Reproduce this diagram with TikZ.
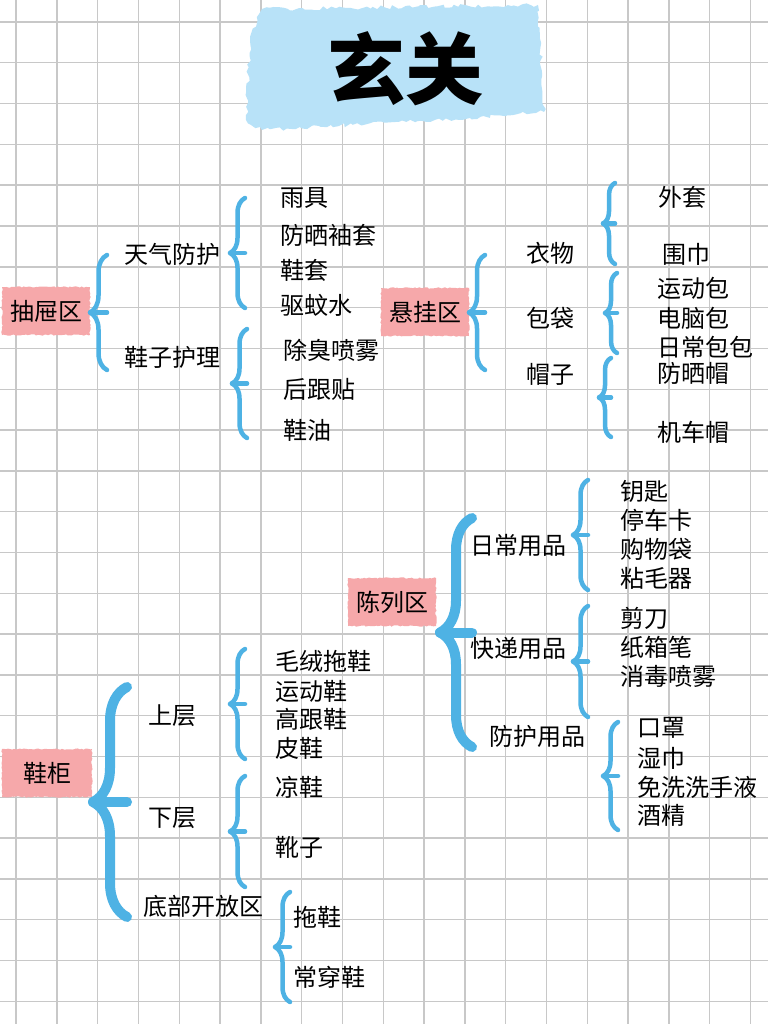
\documentclass[tikz,border=0pt]{standalone}
\usepackage{fontspec}
\setmainfont{Noto Sans CJK SC}
\usetikzlibrary{calc,decorations.pathreplacing,decorations.pathmorphing}

\definecolor{gridgray}{RGB}{200,200,200}
\definecolor{zonepink}{RGB}{246,168,170}
\definecolor{bracblue}{RGB}{78,178,228}
\definecolor{titleblue}{RGB}{184,226,248}

\tikzset{
  gridln/.style={draw=gridgray, line width=1.4},
  zone/.style={fill=zonepink, minimum width=88, minimum height=48, inner sep=0,
    decorate, decoration={random steps,segment length=2pt,amplitude=0.7pt},
    font=\fontsize{24}{28}\selectfont},
  sub/.style={inner sep=0, font=\fontsize{24}{28}\selectfont},
  item/.style={anchor=west, inner sep=0, font=\fontsize{24}{28}\selectfont},
  brc/.style={draw=bracblue, line width=4.5, line cap=round, line join=round},
  bigbrc/.style={draw=bracblue, line width=10, line cap=round, line join=round},
}

% brace: [style]{name}{end x}{top y}{bottom y}{amplitude}
\newcommand\zonebrace[6][brc]{%
  \coordinate (#2t) at (#3,#4);
  \coordinate (#2b) at (#3,#5);
  \draw[#1, decorate, decoration={brace,amplitude=#6pt}] (#2b) -- (#2t);
  \draw[#1] ($(#2b)!.5!(#2t)+(-#6,0)$) -- ($(#2b)!.5!(#2t)$);
}

\begin{document}
\begin{tikzpicture}[x=1pt,y=-1pt]
  \useasboundingbox (0,0) rectangle (768,1024);
  \fill[white] (0,0) rectangle (768,1024);
  % grid paper
  \foreach \i in {0,...,18}
    \draw[gridln] ({16+40.8*\i},0) -- ({16+40.8*\i},1024);
  \foreach \j in {0,...,24}
    \draw[gridln] (0,{22+40.8*\j}) -- (768,{22+40.8*\j});

  % title
  \fill[titleblue, decorate, decoration={random steps,segment length=4pt,amplitude=2pt}]
    (262,9) -- (538,5) -- (544,112) -- (470,118) -- (262,130) -- (246,120) -- (250,40) -- cycle;
  \node[font=\fontsize{78}{80}\selectfont\bfseries] (title) at (405,69) {玄关};

  % drawer
  \node[zone] (drawer) at (46,311) {抽屉区};
  \zonebrace{drawerbr}{107}{255}{370}{17}
  \node[sub] (weather) at (172,254) {天气防护};
  \node[sub] (shoecare) at (172,357) {鞋子护理};
  \zonebrace{weatherbr}{245}{198}{308}{15}
  \zonebrace{shoecarebr}{247}{329}{438}{15}
  \node[item] (rain) at (280,198) {雨具};
  \node[item] (sleeve) at (280,235) {防晒袖套};
  \node[item] (cover) at (280,270) {鞋套};
  \node[item] (repel) at (280,305) {驱蚊水};
  \node[item] (deodor) at (283,350) {除臭喷雾};
  \node[item] (heel) at (283,389) {后跟贴};
  \node[item] (polish) at (283,430) {鞋油};

  % hanging
  \node[zone] (hanging) at (425,312) {悬挂区};
  \zonebrace{hangingbr}{485}{255}{370}{16}
  \node[sub] (clothes) at (550,253) {衣物};
  \node[sub] (bags) at (550,318) {包袋};
  \node[sub] (hats) at (550,374) {帽子};
  \zonebrace{clothesbr}{615}{183}{264}{12}
  \zonebrace{bagsbr}{617}{273}{353}{12}
  \zonebrace{hatsbr}{611}{358}{437}{12}
  \node[item] (coat) at (658,197) {外套};
  \node[item] (scarf) at (662,254) {围巾};
  \node[item] (sportbag) at (657,288) {运动包};
  \node[item] (laptop) at (657,318) {电脑包};
  \node[item] (daybag) at (657,347) {日常包包};
  \node[item] (sunhat) at (657,373) {防晒帽};
  \node[item] (helmet) at (657,432) {机车帽};

  % display
  \node[zone] (display) at (392,602) {陈列区};
  \zonebrace[bigbrc]{displaybr}{472}{518}{747}{32}
  \node[sub] (daily) at (518,545) {日常用品};
  \node[sub] (parcel) at (518,648) {快递用品};
  \node[sub] (protect) at (537,736) {防护用品};
  \zonebrace{dailybr}{588}{480}{590}{15}
  \zonebrace{parcelbr}{588}{606}{717}{15}
  \zonebrace{protectbr}{618}{722}{830}{15}
  \node[item] (keys) at (620,491) {钥匙};
  \node[item] (parkcard) at (620,520) {停车卡};
  \node[item] (shopbag) at (620,549) {购物袋};
  \node[item] (lint) at (620,578) {粘毛器};
  \node[item] (scissors) at (620,618) {剪刀};
  \node[item] (cutter) at (620,647) {纸箱笔};
  \node[item] (spray) at (620,676) {消毒喷雾};
  \node[item] (mask) at (637,728) {口罩};
  \node[item] (wipes) at (637,758) {湿巾};
  \node[item] (sanitizer) at (637,787) {免洗洗手液};
  \node[item] (alcohol) at (637,815) {酒精};

  % shoe cabinet
  \node[zone, minimum width=90] (cabinet) at (47,773) {鞋柜};
  \zonebrace[bigbrc]{cabinetbr}{127}{687}{917}{34}
  \node[sub] (upper) at (172,716) {上层};
  \node[sub] (lower) at (172,818) {下层};
  \node[sub] (open) at (203,906) {底部开放区};
  \zonebrace{upperbr}{245}{649}{759}{15}
  \zonebrace{lowerbr}{245}{776}{887}{15}
  \zonebrace{openbr}{290}{892}{1002}{15}
  \node[item] (plush) at (275,662) {毛绒拖鞋};
  \node[item] (sneaker) at (275,691) {运动鞋};
  \node[item] (highheel) at (275,719) {高跟鞋};
  \node[item] (leather) at (275,748) {皮鞋};
  \node[item] (sandal) at (275,787) {凉鞋};
  \node[item] (boots) at (275,847) {靴子};
  \node[item] (slipper) at (293,917) {拖鞋};
  \node[item] (everyday) at (293,977) {常穿鞋};
\end{tikzpicture}
\end{document}
